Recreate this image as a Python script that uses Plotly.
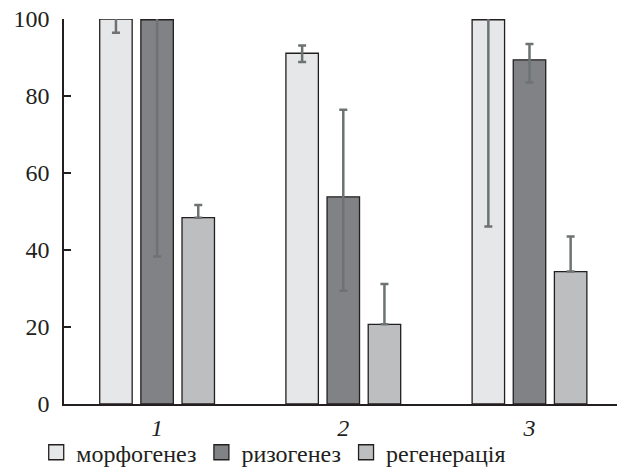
import plotly.graph_objects as go

categories = ["1", "2", "3"]
series_names = ["морфогенез", "ризогенез", "регенерація"]
morph = [100, 91.1, 99.8]
morph_plus = [0.4, 2.0, 0.5]
morph_minus = [3.6, 2.3, 53.7]
rhizo = [99.8, 53.8, 89.4]
rhizo_plus = [0.6, 22.6, 4.1]
rhizo_minus = [61.5, 24.4, 5.9]
regen = [48.4, 20.7, 34.4]
regen_plus = [3.3, 10.5, 9.1]
regen_minus = [0, 0, 0]

fills = ["#e6e7e8", "#808285", "#bcbec0"]
values = [morph, rhizo, regen]
plus = [morph_plus, rhizo_plus, regen_plus]
minus = [morph_minus, rhizo_minus, regen_minus]

FONT = "Liberation Serif"
OUTLINE = "#231f20"
fig = go.Figure()
for name, v, p, m, c in zip(series_names, values, plus, minus, fills):
    fig.add_trace(go.Bar(
        name=name, x=categories, y=v, showlegend=False,
        marker=dict(color=c, line=dict(color=OUTLINE, width=1.3)),
        error_y=dict(type="data", symmetric=False, array=p, arrayminus=m,
                     color="#6d7372", thickness=2.5, width=4),
        cliponaxis=False,
    ))
# legend entries (square swatches)
for name, c in zip(series_names, fills):
    fig.add_trace(go.Scatter(
        name=name, x=[None], y=[None], mode="markers",
        marker=dict(symbol="square", size=15, color=c, line=dict(color=OUTLINE, width=1.3)),
    ))

fig.update_layout(
    width=617, height=474,
    margin=dict(l=64, r=0, t=19, b=70),
    paper_bgcolor="white", plot_bgcolor="white",
    barmode="group", bargap=0.337, bargroupgap=0.211,
    font=dict(family=FONT, size=24, color=OUTLINE),
    showlegend=True,
    legend=dict(orientation="h", xref="container", x=0.0587, xanchor="left",
                yref="container", y=0.045, yanchor="middle", bgcolor="rgba(0,0,0,0)",
                font=dict(family=FONT, size=24, color=OUTLINE),
                traceorder="normal", itemclick=False, tracegroupgap=0),
    xaxis=dict(type="category", range=[-0.5, 2.47], showline=True, linecolor=OUTLINE,
               linewidth=1.5, ticks="", showgrid=False, zeroline=False, automargin=False,
               tickvals=categories, ticktext=["<i>" + c + "</i>" for c in categories],
               ticklabelstandoff=1,
               tickfont=dict(family=FONT, size=24)),
    yaxis=dict(range=[0, 100], showline=True, linecolor=OUTLINE, linewidth=1.5,
               ticks="inside", ticklen=7, tickcolor=OUTLINE, tickwidth=1.5, automargin=False,
               tickvals=[0, 20, 40, 60, 80, 100], showgrid=False, zeroline=False,
               ticklabelstandoff=8,
               tickfont=dict(family=FONT, size=24)),
)
fig.write_html("out.html", post_script="document.body.style.margin='0';",
               config={"displayModeBar": False})
